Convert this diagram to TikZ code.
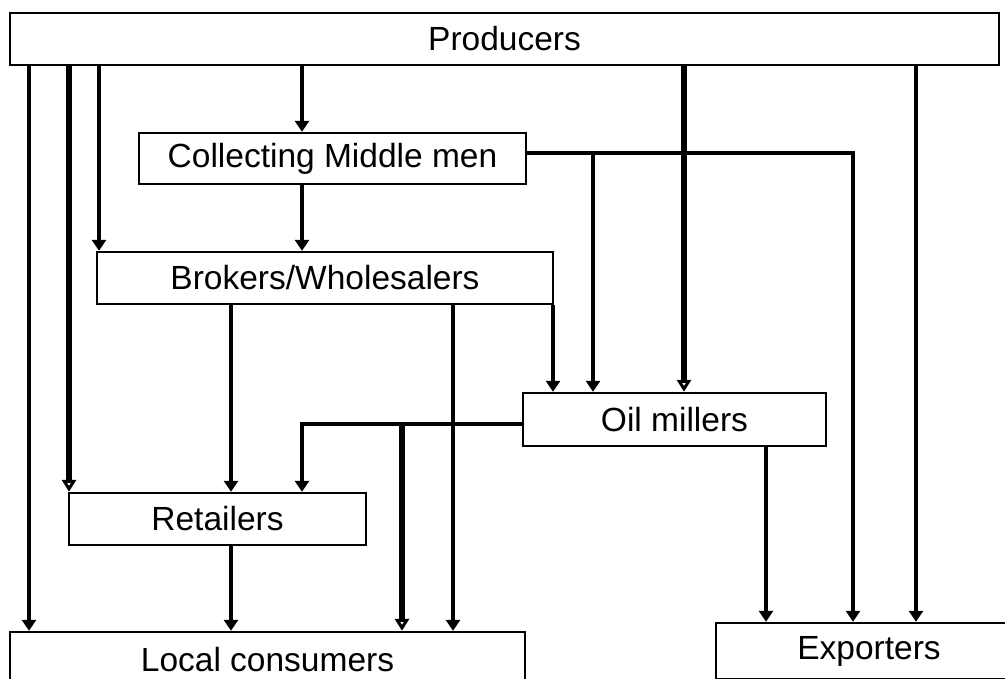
\documentclass[tikz,border=0pt]{standalone}
\usepackage{fontspec}
\setmainfont{Liberation Sans}
\usetikzlibrary{arrows.meta}
\begin{document}
\begin{tikzpicture}[x=1pt,y=-1pt,
  box/.style={draw,line width=2.4pt,rectangle,inner sep=0pt,font=\fontsize{33.5}{38}\selectfont},
  arr/.style={line width=3.3pt,-{Triangle[width=14pt,length=11pt]}},
  thickarr/.style={line width=6pt,-{Triangle[open,width=14pt,length=12pt,line width=3pt,fill=white]}}]
\useasboundingbox (0,0) rectangle (1005,679);
\clip (0,0) rectangle (1005,679);
% nodes
\node[box,minimum width=989pt,minimum height=52pt] (prod) at (504.5,39) {Producers};
\node[box,minimum width=387pt,minimum height=51pt] (cmm) at (332.5,158.5) {Collecting Middle men};
\node[box,minimum width=456pt,minimum height=52pt] (brk) at (325,278) {Brokers/Wholesalers};
\node[box,minimum width=303pt,minimum height=53pt] (oil) at (674.5,419.5) {Oil millers};
\node[box,minimum width=297pt,minimum height=52pt] (ret) at (217.5,519) {Retailers};
\node[box,minimum width=515pt,minimum height=56pt] (lc) at (267.5,660) {Local consumers};
\node[box,minimum width=306pt,minimum height=56pt] (exp) at (869,651) {Exporters};
% helper x positions
\coordinate (xa) at (29,0);
\coordinate (xb) at (69,0);
\coordinate (xc) at (99,0);
\coordinate (xd) at (302,0);
\coordinate (xe) at (684,0);
\coordinate (xf) at (916,0);
\coordinate (xg) at (853,0);
\coordinate (xh) at (593,0);
\coordinate (xi) at (553,0);
\coordinate (xj) at (231,0);
\coordinate (xk) at (453,0);
\coordinate (xl) at (402,0);
\coordinate (xm) at (766,0);
\coordinate (ya) at (0,153);
\coordinate (yb) at (0,424);
% from producers
\draw[arr] (prod.south -| xa) -- (lc.north -| xa);
\draw[thickarr] (prod.south -| xb) -- (ret.north -| xb);
\draw[arr] (prod.south -| xc) -- (brk.north -| xc);
\draw[arr] (prod.south -| xd) -- (cmm.north -| xd);
\draw[thickarr] (prod.south -| xe) -- (oil.north -| xe);
\draw[arr] (prod.south -| xf) -- (exp.north -| xf);
% from collecting middle men
\draw[arr] (cmm.east |- ya) -- (xg |- ya) -- (exp.north -| xg);
\draw[arr] (xh |- ya) -- (oil.north -| xh);
\draw[arr] (cmm.south -| xd) -- (brk.north -| xd);
% from brokers
\draw[arr] (brk.south -| xi) -- (oil.north -| xi);
\draw[arr] (brk.south -| xj) -- (ret.north -| xj);
\draw[arr] (brk.south -| xk) -- (lc.north -| xk);
% from oil millers
\draw[arr] (oil.west |- yb) -- (xd |- yb) -- (ret.north -| xd);
\draw[thickarr] (xl |- yb) -- (lc.north -| xl);
\draw[arr] (oil.south -| xm) -- (exp.north -| xm);
% from retailers
\draw[arr] (ret.south -| xj) -- (lc.north -| xj);
\end{tikzpicture}
\end{document}
